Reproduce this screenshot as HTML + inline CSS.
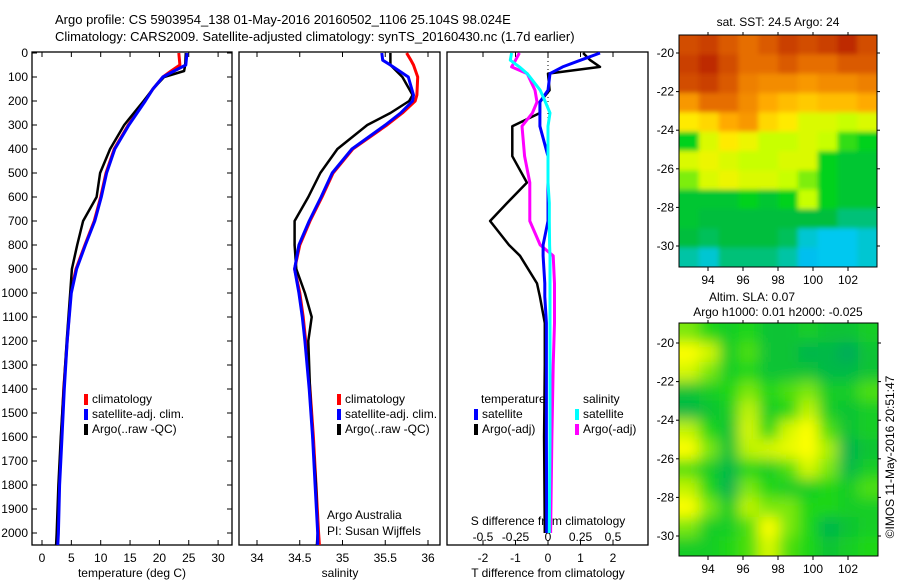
<!DOCTYPE html>
<html><head><meta charset="utf-8">
<style>
body{margin:0;background:#fff;}
svg{display:block;font-family:"Liberation Sans",sans-serif;}
text{fill:#000;}
</style></head>
<body>
<svg id="fig" width="900" height="580" viewBox="0 0 900 580" xmlns="http://www.w3.org/2000/svg">
<text x="55" y="24" font-size="13">Argo profile: CS 5903954_138 01-May-2016 20160502_1106 25.104S 98.024E</text>
<text x="55" y="41" font-size="13">Climatology: CARS2009. Satellite-adjusted climatology: synTS_20160430.nc (1.7d earlier)</text>
<g id="g"></g>
</svg>
<script>
// ---- data ----
const tDepth   = [0,50,75,100,150,200,300,400,500,600,700,800,900,1000,1200,1400,1600,1800,2000,2050];
const tClim    = [23.3,23.5,22,20.6,18.9,17.5,14.7,12.3,10.9,10,8.9,7.3,5.8,4.9,4.3,3.7,3.3,2.9,2.7,2.6];
const tSat     = [24.7,24.5,22.5,20.6,18.9,17.6,14.8,12.4,11,10.1,9,7.4,5.9,5,4.3,3.8,3.4,3,2.8,2.7];
const tArgo    = [24.5,24.4,24.2,20.8,18.9,17.3,14,11.6,9.9,9.3,7,6,5.1,4.8,4.2,3.7,3.2,2.8,2.5,2.4];
const sDepth   = [0,30,50,100,175,200,250,300,400,500,600,700,800,900,1000,1100,1200,1400,1600,1800,2000,2050];
const sClim    = [35.75,35.8,35.83,35.88,35.87,35.85,35.7,35.52,35.12,34.89,34.76,34.62,34.5,34.44,34.5,34.54,34.57,34.62,34.66,34.69,34.72,34.73];
const sSat     = [35.46,35.47,35.56,35.77,35.83,35.82,35.68,35.5,35.11,34.88,34.75,34.61,34.49,34.44,34.49,34.53,34.56,34.61,34.65,34.68,34.71,34.71];
const sArgo    = [35.56,35.56,35.56,35.7,35.82,35.78,35.56,35.29,34.94,34.74,34.6,34.44,34.44,34.46,34.56,34.64,34.6,34.62,34.65,34.69,34.71,34.7];
const dDepth   = [0,30,58,86,155,204,250,305,430,540,625,700,800,845,960,1015,1125,1300,1600,2000];
const dTArgo   = [1.08,1.3,1.6,0,0.05,-0.25,-0.25,-1.1,-1.1,-0.65,-1.26,-1.78,-1.2,-0.86,-0.34,-0.25,-0.1,-0.1,-0.12,-0.1];
const dTSat    = [1.6,1.0,0.45,0.06,0,-0.25,-0.25,-0.25,0,0,0,0,-0.15,-0.15,-0.1,-0.1,-0.05,-0.05,-0.05,-0.04];
const dSSat    = [-0.28,-0.29,-0.22,-0.16,-0.06,-0.02,0.015,0,0,0,0.01,0.01,0.012,0.015,0.015,0.015,0.015,0.015,0.015,0.01];
const dSArgo   = [-0.22,-0.25,-0.28,-0.16,-0.1,-0.085,-0.12,-0.2,-0.18,-0.14,-0.14,-0.14,-0.06,0.04,0.05,0.05,0.05,0.04,0.03,0.02];
const depthTicks = [0,100,200,300,400,500,600,700,800,900,1000,1100,1200,1300,1400,1500,1600,1700,1800,1900,2000];
const tTicks = [0,5,10,15,20,25,30];
const sTicks = [34,34.5,35,35.5,36];
const sTickLabels = ["34","34.5","35","35.5","36"];
const dtTicks = [-2,-1,0,1,2];
const dsTicks = [-0.5,-0.25,0,0.25,0.5];
const dsTickLabels = ["-0.5","-0.25","0","0.25","0.5"];
const lonTicks = [94,96,98,100,102];
const latTicks = [-20,-22,-24,-26,-28,-30];
const sstGrid = [
[0.9,0.92,0.88,0.85,0.88,0.92,0.9,0.92,0.95,0.9],
[0.92,0.95,0.9,0.85,0.85,0.88,0.85,0.85,0.88,0.88],
[0.9,0.92,0.88,0.82,0.8,0.8,0.78,0.8,0.8,0.82],
[0.78,0.85,0.85,0.8,0.75,0.72,0.7,0.72,0.72,0.75],
[0.65,0.68,0.75,0.78,0.68,0.65,0.6,0.6,0.58,0.6],
[0.5,0.6,0.65,0.62,0.58,0.58,0.6,0.58,0.52,0.5],
[0.6,0.62,0.6,0.58,0.58,0.6,0.6,0.5,0.45,0.45],
[0.55,0.6,0.62,0.6,0.6,0.58,0.55,0.5,0.45,0.45],
[0.45,0.45,0.45,0.5,0.45,0.5,0.58,0.5,0.45,0.45],
[0.45,0.42,0.42,0.42,0.42,0.42,0.42,0.42,0.38,0.38],
[0.42,0.4,0.42,0.42,0.42,0.4,0.32,0.3,0.3,0.32],
[0.35,0.32,0.38,0.38,0.38,0.35,0.28,0.3,0.3,0.32]];
const slaGrid = [
[0.6,0.5,0.45,0.5,0.4,0.4,0.45,0.4,0.4,0.45],
[0.9,0.75,0.45,0.55,0.4,0.4,0.3,0.35,0.2,0.4],
[0.75,0.6,0.45,0.5,0.4,0.4,0.4,0.35,0.35,0.4],
[0.4,0.45,0.5,0.6,0.5,0.55,0.6,0.45,0.45,0.55],
[0.35,0.4,0.45,0.7,0.45,0.5,0.7,0.45,0.4,0.45],
[0.7,0.5,0.4,0.75,0.5,0.75,0.85,0.55,0.4,0.45],
[0.85,0.6,0.4,0.7,0.75,0.8,0.95,0.65,0.3,0.4],
[0.55,0.45,0.35,0.5,0.45,0.55,0.75,0.6,0.35,0.45],
[0.7,0.5,0.3,0.6,0.5,0.45,0.45,0.5,0.45,0.55],
[0.95,0.6,0.45,0.7,0.6,0.6,0.5,0.5,0.45,0.45],
[0.6,0.45,0.45,0.55,0.85,0.6,0.5,0.3,0.4,0.45],
[0.45,0.45,0.5,0.55,0.75,0.55,0.5,0.4,0.45,0.5]];

// ---- helpers ----
const NS="http://www.w3.org/2000/svg";
const G=document.getElementById('g');
function mk(tag,attrs,parent){const e=document.createElementNS(NS,tag);for(const k in attrs)e.setAttribute(k,attrs[k]);(parent||G).appendChild(e);return e;}
function txt(x,y,s,size,anchor,parent){const e=mk('text',{x:x,y:y,'font-size':size||12,'text-anchor':anchor||'start'},parent);e.textContent=s;return e;}
const Y0=53,YS=0.24; const yD=d=>Y0+d*YS;
const xT=v=>42+v*5.87, xS=v=>257+(v-34)*85.5, xDT=v=>548+v*32.5, xDS=v=>548+v*130;

function box(x1,x2,name){const r=mk('rect',{x:x1,y:52,width:x2-x1,height:493,fill:'none',stroke:'#000','stroke-width':1.3});}
function line(xs,ds,fx,color,w,name){
  const pts=xs.map((v,i)=>fx(v).toFixed(1)+','+yD(ds[i]).toFixed(1)).join(' ');
  const p=mk('polyline',{points:pts,fill:'none',stroke:color,'stroke-width':w,'stroke-linejoin':'round'});
  
  
}
function legend(x,y,items){items.forEach((it,i)=>{mk('rect',{x:x,y:y+i*15-9,width:4,height:11,fill:it[0]});const t=txt(x+8,y+i*15,it[1],12);});}

// depth axis
depthTicks.forEach(d=>{const t=txt(28,yD(d)+4,String(d),12,'end');
 mk('line',{x1:32,x2:37,y1:yD(d),y2:yD(d),stroke:'#000'});mk('line',{x1:227,x2:232,y1:yD(d),y2:yD(d),stroke:'#000'});});

// panel 1
box(32,232,'temperature-panel');
tTicks.forEach(v=>{mk('line',{x1:xT(v),x2:xT(v),y1:545,y2:540,stroke:'#000'});mk('line',{x1:xT(v),x2:xT(v),y1:52,y2:57,stroke:'#000'});const t=txt(xT(v),562,String(v),12,'middle');});
txt(132,577,'temperature (deg C)',12,'middle');
line(tClim,tDepth,xT,'#ff0000',3,'temp-climatology-line');
line(tArgo,tDepth,xT,'#000000',2.5,'temp-argo-line');
line(tSat,tDepth,xT,'#0000ff',3,'temp-satellite-line');
legend(84,403,[['#f00','climatology'],['#00f','satellite-adj. clim.'],['#000','Argo(..raw -QC)']]);

// panel 2
box(239,440,'salinity-panel');
sTicks.forEach((v,i)=>{mk('line',{x1:xS(v),x2:xS(v),y1:545,y2:540,stroke:'#000'});mk('line',{x1:xS(v),x2:xS(v),y1:52,y2:57,stroke:'#000'});const t=txt(xS(v),562,sTickLabels[i],12,'middle');});
txt(340,577,'salinity',12,'middle');
line(sClim,sDepth,xS,'#ff0000',3,'sal-climatology-line');
line(sArgo,sDepth,xS,'#000000',2.5,'sal-argo-line');
line(sSat,sDepth,xS,'#0000ff',3,'sal-satellite-line');
legend(337,403,[['#f00','climatology'],['#00f','satellite-adj. clim.'],['#000','Argo(..raw -QC)']]);
txt(327,519,'Argo Australia',12);
txt(327,535,'PI: Susan Wijffels',12);

// panel 3
box(447,648,'difference-panel');
mk('line',{x1:548,x2:548,y1:53,y2:130,stroke:'#000','stroke-dasharray':'1,3'});
dtTicks.forEach(v=>{mk('line',{x1:xDT(v),x2:xDT(v),y1:545,y2:540,stroke:'#000'});mk('line',{x1:xDT(v),x2:xDT(v),y1:52,y2:57,stroke:'#000'});const t=txt(xDT(v),562,String(v),12,'middle');});
dsTicks.forEach((v,i)=>{const t=txt(xDS(v),541,dsTickLabels[i],12,'middle');});
txt(548,577,'T difference from climatology',12,'middle');
txt(548,525,'S difference from climatology',12,'middle');
line(dTArgo,dDepth,xDT,'#000000',2.5,'dt-argo-line');
line(dSArgo,dDepth,xDS,'#ff00ff',3,'ds-argo-line');
line(dTSat,dDepth,xDT,'#0000ff',3,'dt-satellite-line');
line(dSSat,dDepth,xDS,'#00ffff',3,'ds-satellite-line');
txt(481,403,'temperature',12);txt(583,403,'salinity',12);
legend(474,418,[['#00f','satellite'],['#000','Argo(-adj)']]);
legend(575,418,[['#0ff','satellite'],['#f0f','Argo(-adj)']]);

// maps
function lerpC(stops,v){v=Math.max(0,Math.min(1,v));for(let i=1;i<stops.length;i++){if(v<=stops[i][0]){const a=stops[i-1],b=stops[i],t=(v-a[0])/(b[0]-a[0]);return 'rgb('+[1,2,3].map(k=>Math.round(a[k]+(b[k]-a[k])*t)).join(',')+')';}}const l=stops[stops.length-1];return 'rgb('+l[1]+','+l[2]+','+l[3]+')';}
const sstStops=[[0,0,60,220],[0.3,0,200,240],[0.42,0,190,60],[0.5,0,210,30],[0.58,200,255,0],[0.64,255,240,0],[0.75,255,170,0],[0.85,230,110,0],[1,170,10,0]];
const slaStops=[[0,0,150,120],[0.35,0,185,70],[0.5,30,215,20],[0.65,170,240,0],[0.85,255,255,0],[1,255,255,0]];
const lonX1=(l)=>708+(l-94)*17.5;
function map(x,y,w,h,grid,stops,name,blur,latY){
  const g=mk('g',{});
  const cp=mk('clipPath',{id:name+'-clip'},g);mk('rect',{x:x,y:y,width:w,height:h},cp);
  const outer=mk('g',{'clip-path':'url(#'+name+'-clip)'},g);
  const inner=mk('g',{},outer);
  if(blur){const f=mk('filter',{id:name+'-blur',x:'-10%',y:'-10%',width:'120%',height:'120%'},g);mk('feGaussianBlur',{stdDeviation:blur},f);inner.setAttribute('filter','url(#'+name+'-blur)');}
  const rows=grid.length,cols=grid[0].length,cw=w/cols,ch=h/rows;
  grid.forEach((row,r)=>row.forEach((v,c)=>{const cell=mk('rect',{x:x+c*cw-(c==0?20:0),y:y+r*ch-(r==0?20:0),width:cw+0.5+(c==0||c==cols-1?20:0),height:ch+0.5+(r==0||r==rows-1?20:0),fill:lerpC(stops,v)},inner);}));
  mk('rect',{x:x,y:y,width:w,height:h,fill:'none',stroke:'#000','stroke-width':1},g);
  lonTicks.forEach(l=>{mk('line',{x1:lonX1(l),x2:lonX1(l),y1:y+h,y2:y+h+4,stroke:'#000'},g);mk('line',{x1:lonX1(l),x2:lonX1(l),y1:y,y2:y-3,stroke:'#000'},g);txt(lonX1(l),y+h+17,String(l),12,'middle',g);});
  latTicks.forEach(l=>{const yy=latY(l);mk('line',{x1:x-3,x2:x,y1:yy,y2:yy,stroke:'#000'},g);mk('line',{x1:x+w,x2:x+w+3,y1:yy,y2:yy,stroke:'#000'},g);txt(x-5,yy+4,String(l),12,'end',g);});
}
map(679,35,198,232,sstGrid,sstStops,'sst-map',2.5,l=>53+(-20-l)*19.3);
map(679,323,199,233,slaGrid,slaStops,'sla-map',7,l=>343+(-20-l)*19.3);
txt(778,26,'sat. SST: 24.5 Argo: 24',12,'middle');
txt(752,301,'Altim. SLA: 0.07',12,'middle');
txt(778,316,'Argo h1000: 0.01 h2000: -0.025',12,'middle');
const c=txt(0,0,'©IMOS 11-May-2016 20:51:47',12,'middle');c.setAttribute('transform','translate(894,457) rotate(-90)');
</script>
</body></html>
